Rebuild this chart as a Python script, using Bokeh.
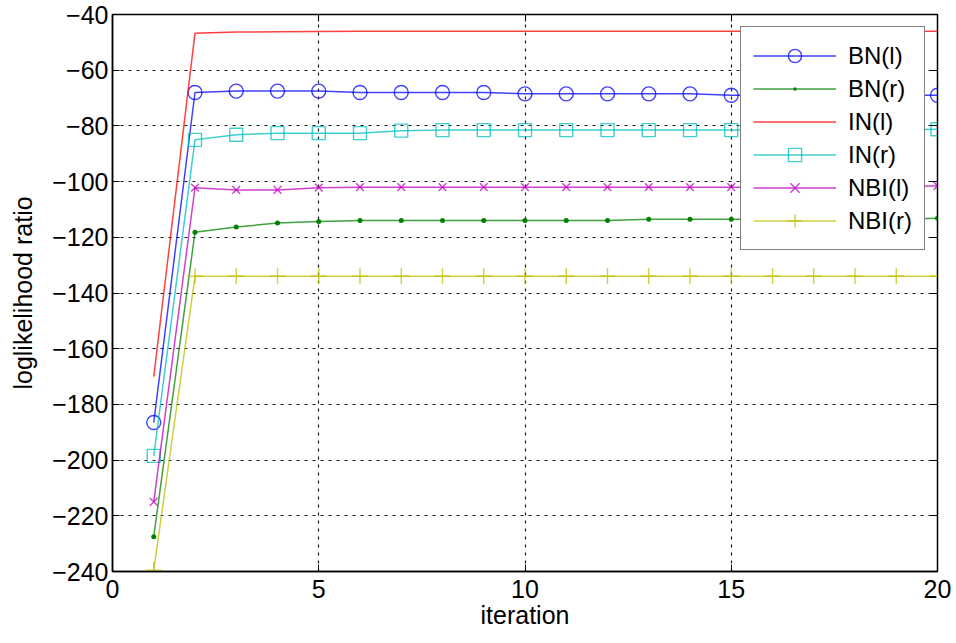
from bokeh.plotting import figure
from bokeh.embed import file_html
from bokeh.resources import INLINE
from bokeh.models import (LinearAxis, FixedTicker, CustomJSTickFormatter, Range1d)

iterations = list(range(1, 21))
bn_l = [-186.5, -68, -67.5, -67.5, -67.5, -68, -68, -68, -68, -68.5,
        -68.5, -68.5, -68.5, -68.5, -69, -69, -69, -69, -69, -69]
bn_r = [-227.5, -118.2, -116.3, -114.9, -114.3, -114, -114, -114, -114, -114,
        -114, -114, -113.5, -113.5, -113.5, -113.5, -113.5, -113.5, -113.5, -113.2]
in_l = [-170, -46.7, -46.3, -46.2, -46.1, -46, -46, -46, -46, -46,
        -46, -46, -46, -46, -46, -46, -46, -46, -46, -46]
in_r = [-198.5, -85, -83.2, -82.6, -82.6, -82.6, -81.7, -81.5, -81.5, -81.5,
        -81.5, -81.5, -81.5, -81.5, -81.5, -81.5, -81.5, -81.5, -81.5, -81.2]
nbi_l = [-215, -102.2, -103, -103, -102.2, -102, -102, -102, -102, -102,
         -102, -102, -102, -102, -102, -102, -102, -102, -102, -101.5]
nbi_r = [-239.5, -134, -134, -134, -134, -134, -134, -134, -134, -134,
         -134, -134, -134, -134, -134, -134, -134, -134, -134, -134]

series_names = ["BN(l)", "BN(r)", "IN(l)", "IN(r)", "NBI(l)", "NBI(r)"]
series_values = [bn_l, bn_r, in_l, in_r, nbi_l, nbi_r]
series_colors = ["#0000ff", "#008000", "#ff0000", "#00bfbf", "#bf00bf", "#bfbf00"]
series_markers = ["circle", "dot", None, "square", "x", "cross"]
marker_sizes = [14, 20, 0, 13, 11, 16]

x_ticks = [0, 5, 10, 15, 20]
y_ticks = [-240, -220, -200, -180, -160, -140, -120, -100, -80, -60, -40]

FONT = "Liberation Sans"
FS = "25px"

p = figure(frame_width=825, frame_height=557, output_backend="svg",
           toolbar_location=None, x_range=Range1d(0, 20), y_range=Range1d(-240, -40),
           min_border_left=112, min_border_right=19, min_border_top=14, min_border_bottom=72,
           x_axis_label="iteration", y_axis_label="loglikelihood ratio")
p.background_fill_color = "white"
p.border_fill_color = "white"
p.outline_line_color = "black"
p.outline_line_width = 1.5

fmt = CustomJSTickFormatter(code="return tick < 0 ? '\u2212' + Math.abs(tick) : tick.toString();")
blank = CustomJSTickFormatter(code="return '';")

for ax in [p.xaxis[0], p.yaxis[0]]:
    ax.major_label_text_font = FONT
    ax.major_label_text_font_size = FS
    ax.major_label_text_color = "black"
    ax.axis_label_text_font = FONT
    ax.axis_label_text_font_size = FS
    ax.axis_label_text_font_style = "normal"
    ax.axis_label_text_color = "black"
    ax.axis_line_color = "black"
    ax.axis_line_width = 1.5
    ax.major_tick_in = 7
    ax.major_tick_out = 0
    ax.major_tick_line_color = "black"
    ax.minor_tick_line_color = None
    ax.formatter = fmt

p.xaxis[0].ticker = FixedTicker(ticks=x_ticks)
p.yaxis[0].ticker = FixedTicker(ticks=y_ticks)
p.xaxis[0].major_label_standoff = 8
p.xaxis[0].axis_label_standoff = 0
p.yaxis[0].major_label_standoff = 4
p.yaxis[0].axis_label_standoff = 12

# mirrored ticks on right and top
r_ax = LinearAxis(ticker=FixedTicker(ticks=y_ticks), formatter=blank,
                  major_tick_in=7, major_tick_out=0, minor_tick_line_color=None,
                  axis_line_color="black", major_tick_line_color="black", major_label_standoff=0)
t_ax = LinearAxis(ticker=FixedTicker(ticks=x_ticks), formatter=blank,
                  major_tick_in=7, major_tick_out=0, minor_tick_line_color=None,
                  axis_line_color="black", major_tick_line_color="black", major_label_standoff=0)
p.add_layout(r_ax, "right")
p.add_layout(t_ax, "above")

for g in [p.xgrid[0], p.ygrid[0]]:
    g.grid_line_color = "black"
    g.grid_line_dash = "3 5"
    g.grid_line_width = 1.2
    g.grid_line_alpha = 0.9
p.xgrid[0].ticker = FixedTicker(ticks=x_ticks)
p.ygrid[0].ticker = FixedTicker(ticks=y_ticks)

for name, vals, col, mk, ms in zip(series_names, series_values, series_colors,
                                    series_markers, marker_sizes):
    p.line(iterations, vals, line_color=col, line_width=1.5, line_alpha=0.75, legend_label=name)
    if mk is not None:
        if mk == "dot":
            p.scatter(iterations, vals, marker="dot", size=ms, line_color=col,
                      fill_color=col, line_width=1.5, legend_label=name)
        else:
            p.scatter(iterations, vals, marker=mk, size=ms, line_color=col,
                      fill_color=None, line_width=1.4, line_alpha=0.75, legend_label=name)

lg = p.legend[0]
lg.location = "top_right"
lg.margin = 12
lg.padding = 12
lg.spacing = 0
lg.glyph_width = 83
lg.glyph_height = 33
lg.label_height = 33
lg.label_standoff = 12
lg.label_text_font = FONT
lg.label_text_font_size = "24px"
lg.label_text_color = "black"
lg.border_line_color = "black"
lg.border_line_width = 1.5
lg.background_fill_color = "white"
lg.background_fill_alpha = 1.0

open("out.html", "w").write(file_html(p, INLINE))
